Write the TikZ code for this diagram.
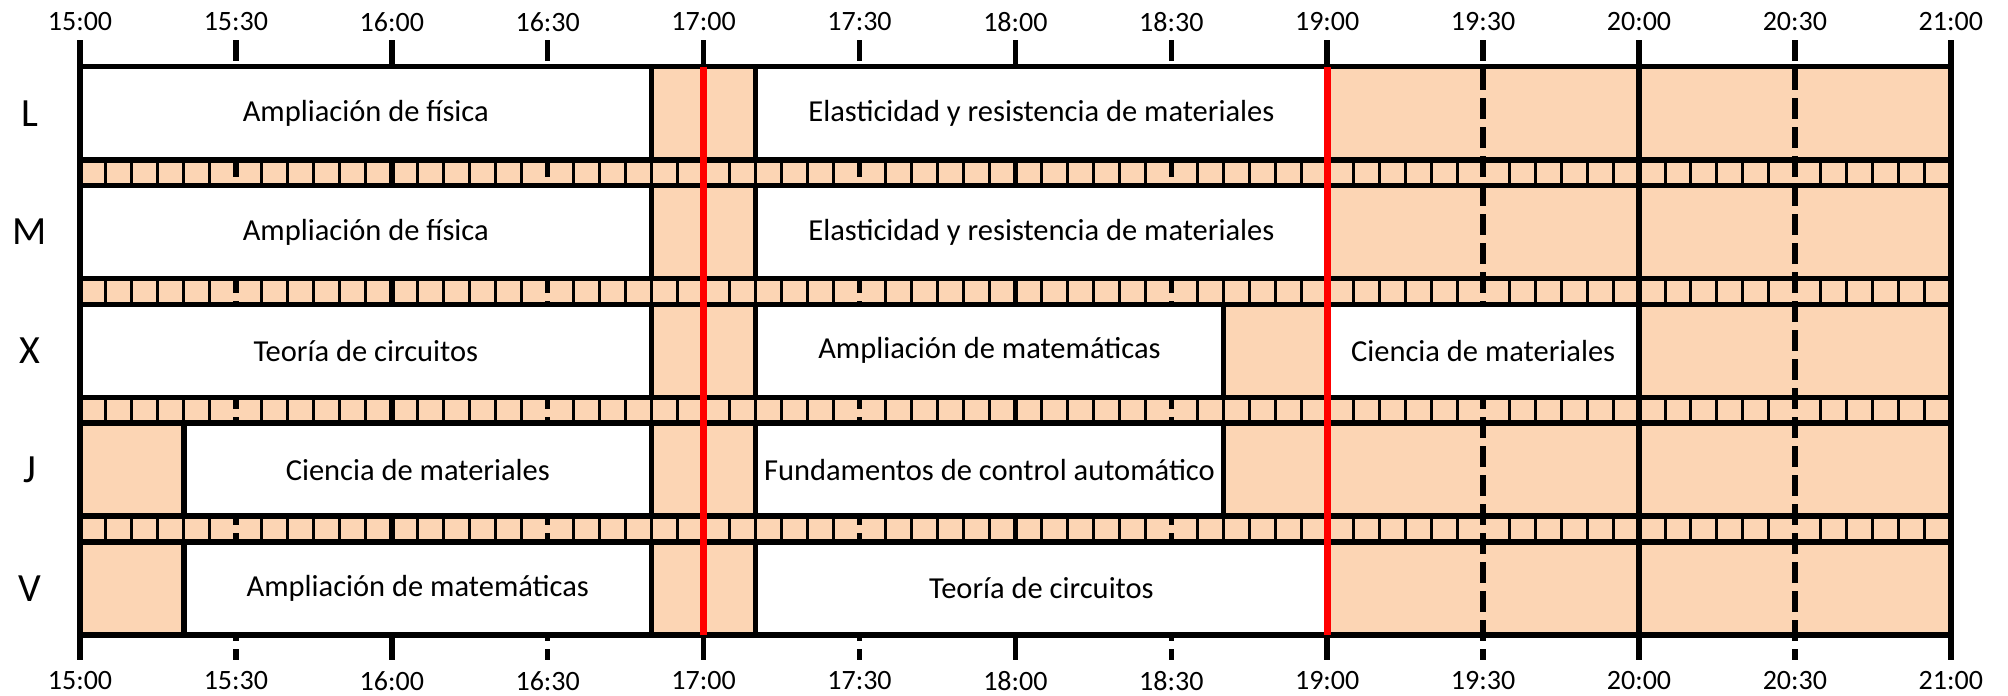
\documentclass[tikz,border=0pt]{standalone}
\usepackage{fontspec}
\setmainfont{Carlito}
\usepackage{tikz}
\definecolor{naranja}{RGB}{252,213,180}

\begin{document}
\begin{tikzpicture}[x=1pt,y=-1pt,
		grueso/.style={line width=5.5pt},
		fino/.style={line width=3pt},
		clase/.style={grueso,fill=white},
		rojo/.style={line width=7pt,red},
		hora/.style={font=\fontsize{28}{30}\selectfont},
		dia/.style={font=\fontsize{40}{44}\selectfont},
		texto/.style={font=\fontsize{30.5}{33}\selectfont}]
	\useasboundingbox (0,0) rectangle (2008,696);
	\begin{scope}[xshift=80pt,x=5.1967pt]
		\fill[naranja] (0,66.7) rectangle (360,635);
		\foreach \ii in {0,60,...,360}
		{
			\draw[grueso] (\ii,40)--(\ii,660);
		}
		\foreach \ii in {30,90,...,330}
		{
			\draw[grueso,dash pattern=on 21pt off 8pt] (\ii,40)--(\ii,660);
		}
		\foreach \jj in {0,...,3}
		\foreach \kk in {0,...,11}
		\foreach \ll in {5,10,...,25}
		{
			\draw[fino] ({30*\kk+\ll},159.8+118.8*\jj)--++(0,25.7);
		}
		\draw[clase] (0,66.7) rectangle (110,159.8) node[midway,texto] (L1) {Ampliación de física};
		\draw[clase] (130,66.7) rectangle (240,159.8) node[midway,texto] (L2) {Elasticidad y resistencia de materiales};
		\draw[clase] (0,185.5) rectangle (110,278.6) node[midway,texto] (M1) {Ampliación de física};
		\draw[clase] (130,185.5) rectangle (240,278.6) node[midway,texto] (M2) {Elasticidad y resistencia de materiales};
		\draw[clase] (0,304.3) rectangle (110,397.4) node[midway,texto] (X1) {Teoría de circuitos};
		\draw[clase] (130,304.3) rectangle (220,397.4) node[midway,texto] (X2) {Ampliación de matemáticas};
		\draw[clase] (240,304.3) rectangle (300,397.4) node[midway,texto] (X3) {Ciencia de materiales};
		\draw[clase] (20,423.1) rectangle (110,516.2) node[midway,texto] (J1) {Ciencia de materiales};
		\draw[clase] (130,423.1) rectangle (220,516.2) node[midway,texto] (J2) {Fundamentos de control automático};
		\draw[clase] (20,541.9) rectangle (110,635) node[midway,texto] (V1) {Ampliación de matemáticas};
		\draw[clase] (130,541.9) rectangle (240,635) node[midway,texto] (V2) {Teoría de circuitos};
		\foreach \yy in {66.7,159.8,185.5,278.6,304.3,397.4,423.1,516.2,541.9,635}
		{
			\draw[grueso] (0,\yy)--(360,\yy);
		}
		\draw[rojo] (120,66.7)--(120,635);
		\draw[rojo] (240,66.7)--(240,635);
		\foreach \ii/\hh in {0/15:00,30/15:30,60/16:00,90/16:30,120/17:00,150/17:30,180/18:00,
			210/18:30,240/19:00,270/19:30,300/20:00,330/20:30,360/21:00}
		{
			\node[hora] (arriba\ii) at (\ii,22) {\hh};
			\node[hora] (abajo\ii) at (\ii,681) {\hh};
		}
	\end{scope}
	\foreach \yy/\dd in {113.3/L,232.1/M,350.9/X,469.7/J,588.5/V}
	{
		\node[dia] (dia\dd) at (30,\yy) {\dd};
	}
\end{tikzpicture}
\end{document}
